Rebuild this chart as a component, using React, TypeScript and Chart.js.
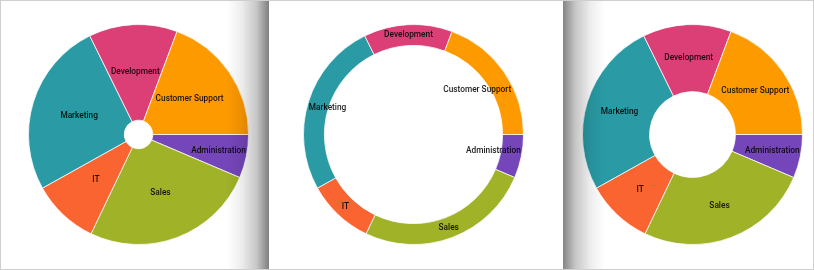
import React, { useEffect, useRef } from "react";
import { Chart, registerables } from "chart.js";

Chart.register(...registerables);

const categories = ["Administration", "Sales", "IT", "Marketing", "Development", "Customer Support"];
const values = [6.4, 25.7, 9.8, 25.8, 13.0, 19.3];
const colors = ["#7546BA", "#A0B228", "#F96431", "#2A9BA5", "#DB3F76", "#FD9A00"];
const cutouts = ["13%", "81%", "39%"];

const labelPlugin = {
  id: "segLabels",
  afterDatasetsDraw(chart: any) {
    const ctx = chart.ctx;
    const meta = chart.getDatasetMeta(0);
    ctx.save();
    ctx.font = "500 8.3px Roboto";
    ctx.fillStyle = "rgba(0,0,0,0.88)";
    ctx.textAlign = "center";
    ctx.textBaseline = "middle";
    meta.data.forEach((arc: any, i: number) => {
      const p = arc.getProps(["x", "y", "startAngle", "endAngle", "innerRadius", "outerRadius"], true);
      const label = chart.data.labels[i];
      const w = ctx.measureText(label).width;
      const h = 12;
      const mid = (p.startAngle + p.endAngle) / 2;
      const span = p.endAngle - p.startAngle;
      const midR = (p.innerRadius + p.outerRadius) / 2;
      const fits = (r: number) => {
        const cx = p.x + Math.cos(mid) * r;
        const cy = p.y + Math.sin(mid) * r;
        const corners = [
          [cx - w / 2, cy - h / 2],
          [cx + w / 2, cy - h / 2],
          [cx - w / 2, cy + h / 2],
          [cx + w / 2, cy + h / 2],
        ];
        for (const [px, py] of corners) {
          const dx = px - p.x;
          const dy = py - p.y;
          if (Math.sqrt(dx * dx + dy * dy) > p.outerRadius) return false;
          let a = Math.atan2(dy, dx) - p.startAngle;
          a = ((a % (2 * Math.PI)) + 2 * Math.PI) % (2 * Math.PI);
          if (a > span) return false;
        }
        return true;
      };
      let best = midR;
      for (let d = 0; d <= p.outerRadius; d += 0.5) {
        if (midR + d <= p.outerRadius && fits(midR + d)) { best = midR + d; break; }
        if (midR - d >= 0 && fits(midR - d)) { best = midR - d; break; }
      }
      ctx.fillText(label, p.x + Math.cos(mid) * best, p.y + Math.sin(mid) * best);
    });
    ctx.restore();
  },
};

function Donut({ cutout, left }: { cutout: string; left: number }) {
  const ref = useRef<HTMLCanvasElement>(null);
  useEffect(() => {
    const chart = new Chart(ref.current!, {
      type: "doughnut",
      data: {
        labels: categories,
        datasets: [
          {
            data: values,
            backgroundColor: colors,
            borderColor: "rgba(255,255,255,0.75)",
            borderWidth: 1,
          },
        ],
      },
      options: {
        responsive: false,
        animation: false,
        cutout,
        rotation: 90,
        plugins: { legend: { display: false }, tooltip: { enabled: false } },
        layout: { padding: 0 },
      },
      plugins: [labelPlugin],
    });
    return () => chart.destroy();
  }, [cutout]);
  return (
    <canvas
      ref={ref}
      width={221}
      height={221}
      style={{ position: "absolute", left, top: 23, width: 221, height: 221 }}
    />
  );
}

export default function App() {
  return (
    <div
      style={{
        position: "absolute",
        left: 0,
        top: 0,
        width: 814,
        height: 270,
        boxSizing: "border-box",
        border: "1px solid #cfcfcf",
        background: "#fff",
        overflow: "hidden",
      }}
    >
      <Donut cutout={cutouts[0]} left={27} />
      <Donut cutout={cutouts[1]} left={302} />
      <Donut cutout={cutouts[2]} left={581} />
      <div
        style={{
          position: "absolute",
          left: 226,
          top: 0,
          width: 42,
          height: 270,
          pointerEvents: "none",
          background:
            "linear-gradient(to right, rgba(0,0,0,0) 0%, rgba(0,0,0,0.07) 35%, rgba(0,0,0,0.22) 70%, rgba(0,0,0,0.5) 100%)",
        }}
      />
      <div
        style={{
          position: "absolute",
          left: 562,
          top: 0,
          width: 42,
          height: 270,
          pointerEvents: "none",
          background:
            "linear-gradient(to left, rgba(0,0,0,0) 0%, rgba(0,0,0,0.07) 35%, rgba(0,0,0,0.22) 70%, rgba(0,0,0,0.48) 100%)",
        }}
      />
    </div>
  );
}
